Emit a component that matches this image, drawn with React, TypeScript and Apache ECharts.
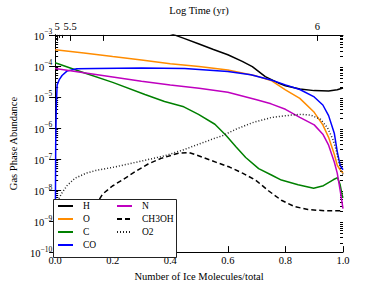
import React, { useEffect, useRef } from "react";
import * as echarts from "echarts";

// ---- data (x = ice fraction, y = gas phase abundance) ----
const H_X = [0.3, 0.414, 0.45, 0.5, 0.55, 0.6, 0.65, 0.685, 0.73, 0.78, 0.8, 0.85, 0.9, 0.95, 0.98, 1.0];
const H_Y = [2.5e-3, 1.0e-3, 7.6e-4, 5.1e-4, 3.4e-4, 2.3e-4, 1.4e-4, 9.5e-5, 4.5e-5, 2.7e-5, 2.3e-5, 1.8e-5, 1.6e-5, 1.55e-5, 1.7e-5, 1.95e-5];

const O_X = [0, 0.1, 0.2, 0.3, 0.4, 0.5, 0.6, 0.7, 0.75, 0.8, 0.85, 0.9, 0.93, 0.95, 0.97, 0.98, 0.99, 1.0];
const O_Y = [3.3e-4, 2.6e-4, 2.0e-4, 1.55e-4, 1.17e-4, 9.5e-5, 7.4e-5, 4.7e-5, 3.4e-5, 1.7e-5, 9e-6, 3.2e-6, 1.26e-6, 5e-7, 1.4e-7, 6.3e-8, 4.5e-8, 3.5e-8];

const C_X = [0, 0.1, 0.2, 0.312, 0.38, 0.447, 0.498, 0.555, 0.594, 0.628, 0.662, 0.707, 0.753, 0.786, 0.844, 0.898, 0.932, 0.966, 0.981, 0.99, 0.997, 1.0];
const C_Y = [1.26e-4, 6.0e-5, 2.95e-5, 1.2e-5, 7.1e-6, 4.8e-6, 2.75e-6, 1.32e-6, 5.75e-7, 2.5e-7, 1.12e-7, 4.9e-8, 3.0e-8, 2.1e-8, 1.48e-8, 1.15e-8, 1.38e-8, 2.14e-8, 2.5e-8, 1.5e-8, 6.8e-9, 5.6e-9];

const CO_X = [0, 0.002, 0.004, 0.007, 0.015, 0.024, 0.041, 0.075, 0.14, 0.3, 0.45, 0.6, 0.68, 0.75, 0.8, 0.85, 0.9, 0.93, 0.95, 0.97, 0.98, 0.99, 1.0];
const CO_Y = [3.2e-11, 3.2e-7, 5e-6, 2.45e-5, 3.7e-5, 4.9e-5, 6.8e-5, 8.1e-5, 8.3e-5, 8.5e-5, 8.3e-5, 6.6e-5, 5.2e-5, 3.5e-5, 2.45e-5, 1.74e-5, 1.0e-5, 5.5e-6, 2.5e-6, 6.6e-7, 1.74e-7, 6.3e-8, 4.5e-8];

const N_X = [0, 0.1, 0.2, 0.3, 0.4, 0.5, 0.6, 0.7, 0.75, 0.8, 0.85, 0.9, 0.93, 0.95, 0.97, 0.98, 0.99, 1.0];
const N_Y = [8.3e-5, 6.0e-5, 4.4e-5, 3.2e-5, 2.45e-5, 1.9e-5, 1.41e-5, 8.1e-6, 6.0e-6, 4.0e-6, 2.2e-6, 1.26e-6, 6.3e-7, 2.8e-7, 7.9e-8, 3.5e-8, 1.0e-8, 2.5e-9];

const CH3OH_X = [0.03, 0.046, 0.07, 0.1, 0.13, 0.165, 0.199, 0.233, 0.278, 0.323, 0.368, 0.425, 0.465, 0.493, 0.56, 0.606, 0.651, 0.696, 0.741, 0.786, 0.831, 0.878, 0.939, 1.0];
const CH3OH_Y = [5e-11, 1.23e-10, 2.75e-10, 7.9e-10, 2.2e-9, 7.4e-9, 1.35e-8, 2.1e-8, 3.9e-8, 6.9e-8, 1.05e-7, 1.51e-7, 1.62e-7, 1.32e-7, 7.8e-8, 5.5e-8, 3.5e-8, 2.1e-8, 9.5e-9, 4.7e-9, 2.95e-9, 2.35e-9, 2.15e-9, 2.15e-9];

const O2_X = [0, 0.004, 0.0125, 0.024, 0.041, 0.069, 0.108, 0.142, 0.21, 0.312, 0.38, 0.447, 0.538, 0.583, 0.628, 0.685, 0.753, 0.82, 0.854, 0.888, 0.922, 0.946, 0.966, 0.976, 0.983, 0.993, 1.0];
const O2_Y = [5e-11, 1e-9, 5.2e-9, 8.1e-9, 1.38e-8, 2.4e-8, 3.5e-8, 4.3e-8, 5.6e-8, 9.1e-8, 1.26e-7, 2.0e-7, 4.1e-7, 5.75e-7, 9.1e-7, 1.48e-6, 2.2e-6, 2.6e-6, 2.75e-6, 2.6e-6, 1.9e-6, 1.02e-6, 4.1e-7, 2.0e-7, 1.0e-7, 4.3e-8, 3.2e-8];

// top axis (Log Time (yr))
const TOP_LABEL_POS = [0.007, 0.052, 0.911];
const TOP_LABELS = ["5", "5.5", "6"];
const TOP_TICK_POS = [0.007, 0.052, 0.168, 0.911];
const TOP_MINOR_POS = [0.013, 0.024];

const FONT = "'Liberation Serif', 'DejaVu Serif', serif";

const minorLogTicks: number[] = [];
for (let e = -10; e < -3; e++) {
  for (let k = 2; k <= 9; k++) minorLogTicks.push(k * Math.pow(10, e));
}

function pairs(xs: number[], ys: number[]) {
  return xs.map((x, i) => [x, ys[i]]);
}

export default function App() {
  const ref = useRef<HTMLDivElement>(null);
  useEffect(() => {
    if (!ref.current) return;
    const chart = echarts.init(ref.current, null, { renderer: "svg" });
    const axisLine = { show: true, lineStyle: { color: "#000", width: 1 } };
    const yBase = {
      type: "log" as const,
      logBase: 10,
      min: 1e-10,
      max: 1e-3,
      splitLine: { show: false },
    };
    const mk = (name: string, xs: number[], ys: number[], color: string, type: any = "solid") => ({
      name,
      type: "line",
      data: pairs(xs, ys),
      xAxisIndex: 0,
      yAxisIndex: 0,
      showSymbol: false,
      symbol: "none",
      lineStyle: { color, width: 1.5, type },
      itemStyle: { color },
      clip: true,
    });
    chart.setOption({
      animation: false,
      textStyle: { fontFamily: FONT },
      grid: { left: 48, right: 39, top: 29, bottom: 29 },
      xAxis: [
        {
          type: "value",
          min: 0,
          max: 1,
          interval: 0.2,
          position: "bottom",
          name: "Number of Ice Molecules/total",
          nameLocation: "middle",
          nameGap: 13,
          nameTextStyle: { fontFamily: FONT, fontSize: 10.5, color: "#000", verticalAlign: "top" },
          axisLine,
          axisTick: { inside: true, length: 6, lineStyle: { color: "#000" } },
          axisLabel: { margin: 3, fontFamily: FONT, fontSize: 10.5, color: "#000", formatter: (v: number) => v.toFixed(1) },
          splitLine: { show: false },
        },
        {
          type: "value",
          min: 0,
          max: 1,
          position: "top",
          name: "Log Time (yr)",
          nameLocation: "middle",
          nameGap: 14,
          nameTextStyle: { fontFamily: FONT, fontSize: 10.5, color: "#000" },
          axisLine,
          axisTick: { inside: true, length: 6, customValues: TOP_TICK_POS, lineStyle: { color: "#000" } },
          axisLabel: {
            margin: 3,
            fontFamily: FONT,
            fontSize: 10.5,
            color: "#000",
            customValues: TOP_LABEL_POS,
            formatter: (v: number) => {
              const i = TOP_LABEL_POS.findIndex((p) => Math.abs(p - v) < 1e-6);
              return i >= 0 ? TOP_LABELS[i] : "";
            },
          },
          splitLine: { show: false },
        },
        {
          type: "value",
          min: 0,
          max: 1,
          position: "top",
          axisLine: { show: false },
          axisTick: { inside: true, length: 3, customValues: TOP_MINOR_POS, lineStyle: { color: "#000" } },
          axisLabel: { show: false },
          splitLine: { show: false },
        },
      ],
      yAxis: [
        {
          ...yBase,
          position: "left",
          name: "Gas Phase Abundance",
          nameLocation: "middle",
          nameGap: 28,
          nameRotate: 90,
          nameTextStyle: { fontFamily: FONT, fontSize: 10.5, color: "#000" },
          axisLine,
          axisTick: { inside: true, length: 6, lineStyle: { color: "#000" } },
          axisLabel: {
            margin: 3,
            color: "#000",
            fontFamily: FONT,
            formatter: (v: number) => {
              const e = Math.round(Math.log10(v));
              return `{b|10}{s|\u2212${-e}}`;
            },
            rich: {
              b: { fontFamily: FONT, fontSize: 10.5, color: "#000", padding: [3, 0, 0, 0] },
              s: { fontFamily: FONT, fontSize: 7.5, color: "#000", verticalAlign: "top" },
            },
          },
        },
        {
          ...yBase,
          position: "left",
          axisLine: { show: false },
          axisTick: { inside: true, length: 3, customValues: minorLogTicks, lineStyle: { color: "#000" } },
          axisLabel: { show: false },
        },
        {
          ...yBase,
          position: "right",
          axisLine,
          axisTick: { inside: true, length: 6, lineStyle: { color: "#000" } },
          axisLabel: { show: false },
        },
        {
          ...yBase,
          position: "right",
          axisLine: { show: false },
          axisTick: { inside: true, length: 3, customValues: minorLogTicks, lineStyle: { color: "#000" } },
          axisLabel: { show: false },
        },
      ],
      legend: [
        {
          data: ["H", "O", "C", "CO"],
          orient: "vertical",
          left: 57,
          top: 200,
          padding: 0,
          itemWidth: 15,
          itemHeight: 12,
          itemGap: 1,
          z: 20,
          itemStyle: { opacity: 0 },
          lineStyle: { width: 2 },
          textStyle: { fontFamily: FONT, fontSize: 9.5, color: "#000", padding: [0, 0, 0, 5], lineHeight: 12 },
        },
        {
          data: ["N", "CH3OH", "O2"],
          orient: "vertical",
          left: 116,
          top: 200,
          padding: 0,
          itemWidth: 15,
          itemHeight: 12,
          itemGap: 1,
          z: 20,
          itemStyle: { opacity: 0 },
          lineStyle: { width: 2 },
          textStyle: { fontFamily: FONT, fontSize: 9.5, color: "#000", padding: [0, 0, 0, 5], lineHeight: 12 },
        },
      ],
      graphic: [
        {
          type: "rect",
          left: 53,
          top: 199,
          z: 10,
          shape: { width: 123, height: 58 },
          style: { fill: "#fff", stroke: "#222", lineWidth: 1 },
        },
      ],
      series: [
        mk("H", H_X, H_Y, "#000000"),
        mk("O", O_X, O_Y, "#ff8c00"),
        mk("C", C_X, C_Y, "#008000"),
        mk("CO", CO_X, CO_Y, "#0000ff"),
        mk("N", N_X, N_Y, "#bf00bf"),
        mk("CH3OH", CH3OH_X, CH3OH_Y, "#000000", [5, 3]),
        mk("O2", O2_X, O2_Y, "#222222", [1, 2]),
      ],
    });
    return () => chart.dispose();
  }, []);
  return <div ref={ref} style={{ position: "absolute", left: 0, top: 0, width: 382, height: 287 }} />;
}
